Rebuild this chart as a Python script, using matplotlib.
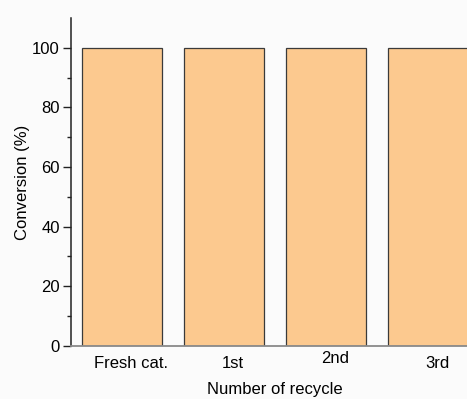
import matplotlib
matplotlib.use("Agg")
import matplotlib.pyplot as plt
import matplotlib.transforms as mtransforms

# Catalyst recycling data
categories = ["Fresh cat.", "1st", "2nd", "3rd"]
conversion = [100, 100, 100, 100]
y_ticks = [0, 20, 40, 60, 80, 100]

plt.rcParams["font.family"] = ["Liberation Sans", "DejaVu Sans"]
plt.rcParams["font.size"] = 12

fig = plt.figure(figsize=(4.67, 3.99), dpi=100, facecolor="#fbfbfb")
ax = fig.add_axes([0.152, 0.133, 0.874, 0.822])
ax.set_facecolor("#fbfbfb")

x = list(range(len(categories)))
ax.bar(x, conversion, width=0.79, color="#fcc98f", edgecolor="#3a3a3a",
       linewidth=0.9, zorder=2)

ax.set_xlim(-0.5, 3.5)
ax.set_ylim(0, 110)
ax.set_yticks(y_ticks)
ax.set_yticks(range(10, 110, 20), minor=True)
ax.set_xticks(x)
ax.set_xticklabels(categories)

ax.tick_params(axis="y", which="major", direction="out", length=6, width=1,
               color="#222222", pad=2, labelsize=12)
ax.tick_params(axis="y", which="minor", direction="out", length=3, width=1,
               color="#222222")
ax.tick_params(axis="x", which="both", length=0, pad=7, labelsize=12)

# nudge category labels slightly right of the bar centres
for i, lbl in enumerate(ax.get_xticklabels()):
    dy = 3 / 72 if categories[i] == "2nd" else 0
    offset = mtransforms.ScaledTranslation(9 / 100, dy, fig.dpi_scale_trans)
    lbl.set_transform(lbl.get_transform() + offset)

for side in ("top", "right"):
    ax.spines[side].set_visible(False)
ax.spines["left"].set_color("#222222")
ax.spines["left"].set_linewidth(1.1)
ax.spines["bottom"].set_color("#8a8a8a")
ax.spines["bottom"].set_linewidth(1.3)

ax.set_xlabel("Number of recycle", fontsize=12, labelpad=8.5)
ax.set_ylabel("Conversion (%)", fontsize=12, labelpad=1.5)

fig.savefig("out.png", dpi=100, facecolor=fig.get_facecolor())
